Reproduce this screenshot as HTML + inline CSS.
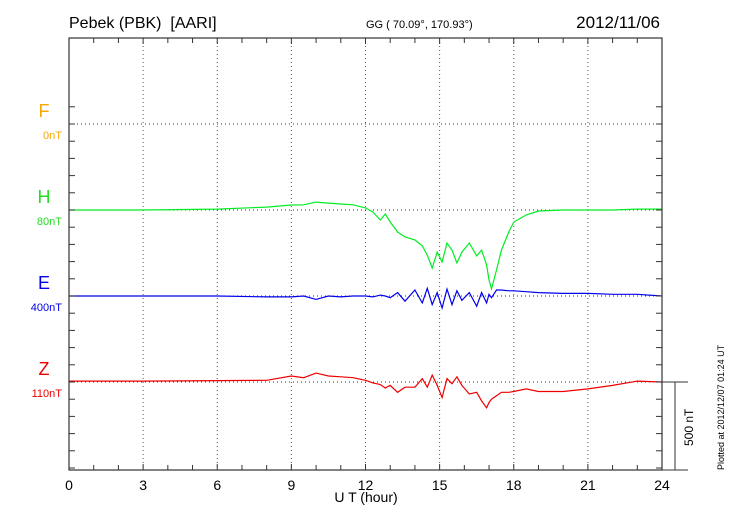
<!DOCTYPE html>
<html><head><meta charset="utf-8"><style>
body{margin:0;background:#fff;width:730px;height:520px;overflow:hidden}
svg{display:block;font-family:"Liberation Sans",Arial,sans-serif}
</style></head><body>
<svg id="chart" width="730" height="520" viewBox="0 0 730 520">
<text x="69" y="28" font-size="16" fill="#000" style="white-space:pre">Pebek (PBK)  [AARI]</text>
<text x="366" y="28" font-size="11" fill="#000">GG ( 70.09°, 170.93°)</text>
<text x="660" y="28" font-size="17" fill="#000" text-anchor="end">2012/11/06</text>
<text x="366" y="502" font-size="14" fill="#000" text-anchor="middle">U T (hour)</text>
<text transform="translate(724,470) rotate(-90)" font-size="9" fill="#000">Plotted at 2012/12/07 01:24 UT</text>
<g id="grid"></g><g id="series"></g><g id="axes"></g>
</svg>
<script>
const hours=[0,3,6,8,9,9.5,10,10.5,11,11.5,12,12.3,12.6,12.8,13,13.3,13.6,14,14.3,14.5,14.7,14.9,15.1,15.3,15.5,15.7,15.9,16.2,16.5,16.7,16.9,17.0,17.1,17.3,17.5,17.8,18,18.5,19,20,21,22,23,24];
const hValues=[0,0,5,17,29,30,46,40,35,30,12,-12,-58,-23,-70,-128,-157,-174,-209,-262,-337,-245,-302,-192,-233,-308,-245,-192,-267,-233,-320,-407,-459,-349,-233,-128,-70,-29,-6,0,0,0,5,5];
const eValues=[0,0,0,-5,-5,0,-20,0,-5,0,0,-5,5,0,-10,20,-30,35,-40,45,-50,20,-70,40,-50,30,-25,20,-60,20,-40,10,-10,35,35,30,30,25,20,15,15,10,10,0];
const zValues=[5,5,8,10,35,25,52,35,30,25,10,-5,-15,-35,-20,-60,-30,-30,20,-30,40,-20,-90,20,-10,30,-20,-70,-60,-110,-150,-120,-100,-80,-60,-60,-55,-40,-55,-55,-40,-20,5,0];
const traces=[["h-trace","#00ee22",hValues,210],["e-trace","#0000ee",eValues,296],["z-trace","#ee0000",zValues,382]];
const labels=[["F","#f5a800","0nT",124],["H","#22dd22","80nT",210],["E","#0000ee","400nT",296],["Z","#ee0000","110nT",382]];
const xTicks=[0,3,6,9,12,15,18,21,24];
const X0=69,X1=662,Y0=38,Y1=470,PXNT=86/500;
const xs=h=>X0+(X1-X0)*h/24;
const ys=(v,base)=>base-v*PXNT;
const NS="http://www.w3.org/2000/svg";
function mk(tag,attrs,parent){const e=document.createElementNS(NS,tag);for(const k in attrs)e.setAttribute(k,attrs[k]);parent.appendChild(e);return e;}
const grid=document.getElementById('grid'),ser=document.getElementById('series'),ax=document.getElementById('axes');
xTicks.forEach(t=>{
 if(t>0&&t<24){const l=mk('line',{x1:xs(t),x2:xs(t),y1:Y0,y2:Y1,stroke:'#555','stroke-dasharray':'1,3','stroke-width':1},grid);
 
 }
 const tx=mk('text',{x:xs(t),y:490,'font-size':14,'text-anchor':'middle',fill:'#000'},ax);tx.textContent=t;
 
 
});
labels.forEach(([c,col,nt,base])=>{
 const g=mk('line',{x1:X0,x2:X1,y1:base,y2:base,stroke:'#333','stroke-dasharray':'1,3','stroke-width':1},grid);
 
 
 const t1=mk('text',{x:44,y:base-7,'font-size':18,'text-anchor':'middle',fill:col},ax);t1.textContent=c;
 
 
 const t2=mk('text',{x:62,y:base+15,'font-size':11,'text-anchor':'end',fill:col},ax);t2.textContent=nt;
 
 
});
traces.forEach(([name,col,vals,base])=>{
 const d=hours.map((h,i)=>(i?'L':'M')+xs(h).toFixed(1)+','+ys(vals[i],base).toFixed(1)).join(' ');
 const p=mk('path',{d:d,fill:'none',stroke:col,'stroke-width':1.2},ser);
 
 
});
const fr=mk('rect',{x:X0,y:Y0,width:X1-X0,height:Y1-Y0,fill:'none',stroke:'#333','stroke-width':1.2},ax);


for(let h=0;h<=24;h++){
 const len=h%3===0?6:5;
 mk('line',{x1:xs(h),x2:xs(h),y1:Y0,y2:Y0+len,stroke:'#333'},ax);
 mk('line',{x1:xs(h),x2:xs(h),y1:Y1,y2:Y1-len,stroke:'#333'},ax);
}
for(let k=-1;k<=20;k++){const y=124+k*17.2;if(y<=Y0||y>=Y1)continue;
 mk('line',{x1:X0,x2:X0+6,y1:y,y2:y,stroke:'#333'},ax);
 mk('line',{x1:X1,x2:X1-6,y1:y,y2:y,stroke:'#333'},ax);}
mk('line',{x1:X1,x2:688,y1:382,y2:382,stroke:'#333'},ax);
mk('line',{x1:X1,x2:688,y1:Y1,y2:Y1,stroke:'#333'},ax);
const sb=mk('line',{x1:675,x2:675,y1:382,y2:Y1,stroke:'#333'},ax);


const sbt=mk('text',{transform:'translate(693,446) rotate(-90)','font-size':12,fill:'#000'},ax);sbt.textContent='500 nT';


</script>
</body></html>
